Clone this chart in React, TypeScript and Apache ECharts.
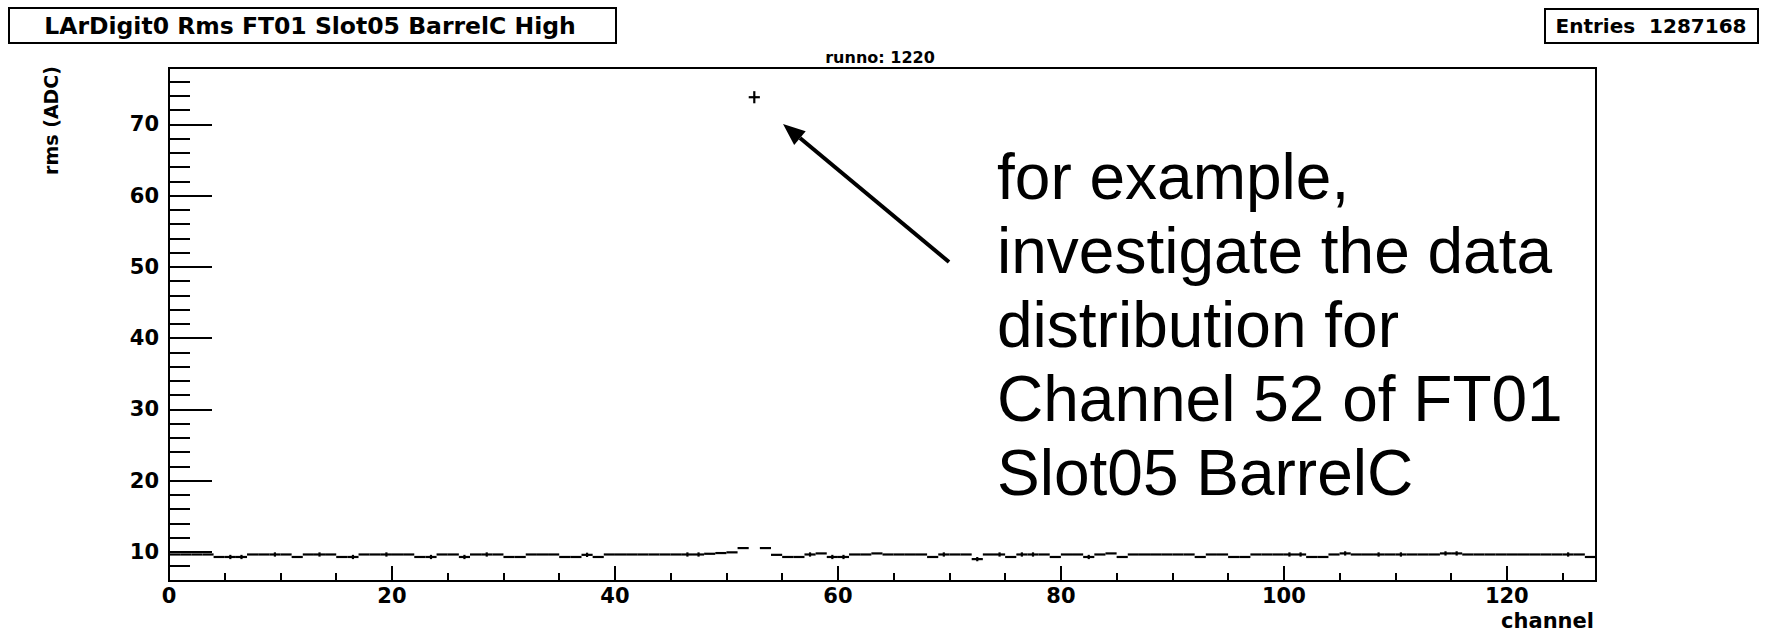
import React, { useEffect, useRef } from "react";
import * as echarts from "echarts";

// ---- data ----
const channels: number[] = Array.from({ length: 128 }, (_, i) => i);
const rmsValues: number[] = [
  9.65, 9.65, 9.65, 9.65, 9.3, 9.3, 9.3, 9.65, 9.65, 9.65,
  9.65, 9.3, 9.65, 9.65, 9.65, 9.3, 9.3, 9.65, 9.65, 9.65,
  9.65, 9.65, 9.3, 9.3, 9.65, 9.65, 9.3, 9.65, 9.65, 9.65,
  9.3, 9.3, 9.65, 9.65, 9.65, 9.3, 9.3, 9.6, 9.3, 9.65,
  9.65, 9.65, 9.65, 9.65, 9.65, 9.65, 9.65, 9.65, 9.75, 9.85,
  9.95, 10.55, 73.8, 10.55, 9.6, 9.3, 9.3, 9.65, 9.8, 9.3,
  9.3, 9.65, 9.65, 9.8, 9.65, 9.65, 9.65, 9.65, 9.3, 9.65,
  9.65, 9.65, 9.0, 9.65, 9.65, 9.3, 9.65, 9.65, 9.65, 9.3,
  9.65, 9.65, 9.3, 9.65, 9.8, 9.3, 9.65, 9.65, 9.65, 9.65,
  9.65, 9.65, 9.3, 9.65, 9.65, 9.3, 9.3, 9.65, 9.65, 9.65,
  9.65, 9.65, 9.3, 9.3, 9.65, 9.8, 9.65, 9.65, 9.65, 9.65,
  9.65, 9.65, 9.65, 9.65, 9.8, 9.8, 9.65, 9.65, 9.65, 9.65,
  9.65, 9.65, 9.65, 9.65, 9.65, 9.65, 9.65, 9.3,
];
const rmsErrors: number[] = [
  0.04, 0.04, 0.04, 0.04, 0.04, 0.3, 0.3, 0.04, 0.04, 0.3,
  0.04, 0.04, 0.04, 0.3, 0.04, 0.04, 0.3, 0.04, 0.04, 0.3,
  0.04, 0.04, 0.04, 0.3, 0.04, 0.04, 0.3, 0.04, 0.3, 0.04,
  0.04, 0.04, 0.04, 0.04, 0.04, 0.04, 0.04, 0.3, 0.04, 0.04,
  0.04, 0.04, 0.04, 0.04, 0.04, 0.04, 0.3, 0.3, 0.04, 0.04,
  0.04, 0.1, 0.85, 0.1, 0.04, 0.04, 0.04, 0.3, 0.04, 0.3,
  0.3, 0.04, 0.04, 0.04, 0.04, 0.04, 0.04, 0.04, 0.04, 0.3,
  0.04, 0.04, 0.3, 0.04, 0.3, 0.04, 0.3, 0.3, 0.04, 0.04,
  0.04, 0.04, 0.3, 0.04, 0.04, 0.04, 0.04, 0.04, 0.04, 0.04,
  0.04, 0.04, 0.04, 0.04, 0.04, 0.04, 0.04, 0.04, 0.04, 0.04,
  0.3, 0.3, 0.04, 0.04, 0.04, 0.3, 0.04, 0.04, 0.3, 0.04,
  0.3, 0.04, 0.04, 0.04, 0.3, 0.3, 0.04, 0.04, 0.04, 0.04,
  0.04, 0.04, 0.04, 0.04, 0.04, 0.3, 0.04, 0.04,
];
const xMajorTicks: number[] = [0, 20, 40, 60, 80, 100, 120];
const xMinorTicks: number[] = [5, 10, 15, 25, 30, 35, 45, 50, 55, 65, 70, 75, 85, 90, 95, 105, 110, 115, 125];
const yMajorTicks: number[] = [10, 20, 30, 40, 50, 60, 70];
const yMinorTicks: number[] = [8, 12, 14, 16, 18, 22, 24, 26, 28, 32, 34, 36, 38, 42, 44, 46, 48, 52, 54, 56, 58, 62, 64, 66, 68, 72, 74, 76];
const xRange: number[] = [0, 128];
const yRange: number[] = [5.93, 77.9];

const titleText = "LArDigit0 Rms FT01 Slot05 BarrelC High";
const entriesText = "Entries  1287168";
const runText = "runno: 1220";
const xTitle = "channel";
const yTitle = "rms (ADC)";
const noteText = "for example,\ninvestigate the data\ndistribution for\nChannel 52 of FT01\nSlot05 BarrelC";

const ROOTFONT = "DejaVu Sans";

export default function App() {
  const ref = useRef<HTMLDivElement>(null);
  useEffect(() => {
    if (!ref.current) return;
    const chart = echarts.init(ref.current, null, { renderer: "svg" });
    const data = channels.map((c, i) => [c, rmsValues[i], rmsErrors[i]]);
    const axisLineStyle = { color: "#000", width: 2 };
    const option: any = {
      animation: false,
      backgroundColor: "#fff",
      grid: {
        left: 169,
        right: 171,
        top: 68,
        bottom: 51,
        show: true,
        borderColor: "#000",
        borderWidth: 2,
        backgroundColor: "transparent",
      },
      xAxis: [
        {
          type: "value",
          min: xRange[0],
          max: xRange[1],
          interval: 20,
          position: "bottom",
          axisLine: { show: true, onZero: false, lineStyle: axisLineStyle },
          axisTick: { show: true, inside: true, length: 15, customValues: xMajorTicks, lineStyle: { color: "#000", width: 2 } },
          axisLabel: {
            customValues: xMajorTicks,
            fontFamily: ROOTFONT,
            fontWeight: "bold",
            fontSize: 21,
            color: "#000",
            margin: 4,
          },
          splitLine: { show: false },
        },
        {
          type: "value",
          min: xRange[0],
          max: xRange[1],
          position: "bottom",
          axisLine: { show: false },
          axisTick: { show: true, inside: true, length: 8, customValues: xMinorTicks, lineStyle: { color: "#000", width: 2 } },
          axisLabel: { show: false },
          splitLine: { show: false },
        },
      ],
      yAxis: [
        {
          type: "value",
          min: yRange[0],
          max: yRange[1],
          position: "left",
          axisLine: { show: true, onZero: false, lineStyle: axisLineStyle },
          axisTick: { show: true, inside: true, length: 43, customValues: yMajorTicks, lineStyle: { color: "#000", width: 2 } },
          axisLabel: {
            customValues: yMajorTicks,
            fontFamily: ROOTFONT,
            fontWeight: "bold",
            fontSize: 21,
            color: "#000",
            margin: 10,
          },
          splitLine: { show: false },
        },
        {
          type: "value",
          min: yRange[0],
          max: yRange[1],
          position: "left",
          axisLine: { show: false },
          axisTick: { show: true, inside: true, length: 21, customValues: yMinorTicks, lineStyle: { color: "#000", width: 2 } },
          axisLabel: { show: false },
          splitLine: { show: false },
        },
      ],
      series: [
        {
          type: "custom",
          xAxisIndex: 0,
          yAxisIndex: 0,
          data,
          encode: { x: 0, y: 1 },
          renderItem: (params: any, api: any) => {
            const x = api.value(0);
            const v = api.value(1);
            const e = api.value(2);
            const p0 = api.coord([x, v]);
            const p1 = api.coord([x + 1, v]);
            const c0 = api.coord([x + 0.5, v - e]);
            const c1 = api.coord([x + 0.5, v + e]);
            return {
              type: "group",
              children: [
                { type: "line", shape: { x1: p0[0], y1: p0[1], x2: p1[0], y2: p1[1] }, style: { stroke: "#000", lineWidth: 2.2 } },
                { type: "line", shape: { x1: c0[0], y1: c0[1], x2: c1[0], y2: c1[1] }, style: { stroke: "#000", lineWidth: 2.2 } },
              ],
            };
          },
        },
      ],
      graphic: [
        { type: "rect", shape: { x: 9, y: 8, width: 607, height: 35 }, style: { fill: "#fff", stroke: "#000", lineWidth: 2 } },
        {
          type: "text",
          x: 310,
          y: 26,
          style: { text: titleText, fontFamily: ROOTFONT, fontWeight: "bold", fontSize: 23.5, fill: "#000", align: "center", verticalAlign: "middle" },
        },
        { type: "rect", shape: { x: 1545, y: 9, width: 213, height: 34 }, style: { fill: "#fff", stroke: "#000", lineWidth: 2 } },
        {
          type: "text",
          x: 1651,
          y: 26,
          style: { text: entriesText, fontFamily: ROOTFONT, fontWeight: "bold", fontSize: 20, fill: "#000", align: "center", verticalAlign: "middle" },
        },
        {
          type: "text",
          x: 880,
          y: 57,
          style: { text: runText, fontFamily: ROOTFONT, fontWeight: "bold", fontSize: 16, fill: "#000", align: "center", verticalAlign: "middle" },
        },
        {
          type: "text",
          x: 1594,
          y: 631,
          style: { text: xTitle, fontFamily: ROOTFONT, fontWeight: "bold", fontSize: 21, fill: "#000", align: "right", verticalAlign: "bottom" },
        },
        {
          type: "text",
          x: 51,
          y: 66,
          rotation: Math.PI / 2,
          style: { text: yTitle, fontFamily: ROOTFONT, fontWeight: "bold", fontSize: 19, fill: "#000", align: "right", verticalAlign: "middle" },
        },
        {
          type: "line",
          shape: { x1: 949, y1: 262, x2: 800, y2: 138 },
          style: { stroke: "#000", lineWidth: 4 },
        },
        {
          type: "polygon",
          shape: { points: [[783, 124], [805.7, 131.2], [794.2, 145.0]] },
          style: { fill: "#000" },
        },
        {
          type: "text",
          x: 997,
          y: 140,
          style: { text: noteText, fontFamily: "Liberation Sans", fontSize: 64, lineHeight: 74, fill: "#000", align: "left", verticalAlign: "top" },
        },
      ],
    };
    chart.setOption(option);
    return () => chart.dispose();
  }, []);
  return (
    <div
      ref={ref}
      style={{ position: "fixed", left: 0, top: 0, width: 1767, height: 632, background: "#fff" }}
    />
  );
}
